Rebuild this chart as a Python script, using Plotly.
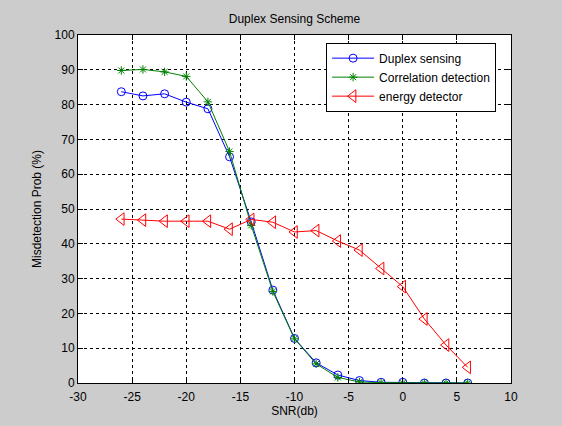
import plotly.graph_objects as go

# SNR sweep (dB)
snr_db = [-26, -24, -22, -20, -18, -16, -14, -12, -10, -8, -6, -4, -2, 0, 2, 4, 6]

# Misdetection probability (%) per scheme
duplex_sensing = [83.7, 82.5, 83.1, 80.7, 78.8, 65.0, 46.3, 26.7, 12.8, 5.8, 2.3, 0.7, 0.2, 0.2, 0, 0, 0]
correlation_detection = [89.8, 90.1, 89.4, 88.1, 80.8, 66.5, 45.3, 26.3, 12.7, 5.5, 1.6, 0.3, 0.1, 0, 0, 0, 0]
energy_detector = [47.1, 46.8, 46.5, 46.5, 46.5, 44.2, 47.0, 46.2, 43.4, 43.8, 40.8, 38.2, 32.9, 27.7, 18.4, 10.9, 4.5]

x_ticks = [-30, -25, -20, -15, -10, -5, 0, 5, 10]
y_ticks = [0, 10, 20, 30, 40, 50, 60, 70, 80, 90, 100]

FONT = "Liberation Sans, Arial, sans-serif"

fig = go.Figure()
fig.add_trace(go.Scatter(
    x=snr_db, y=duplex_sensing, name="Duplex sensing", mode="lines+markers",
    line=dict(color="#0000ff", width=1),
    marker=dict(symbol="circle-open", size=8, color="#0000ff", line=dict(width=1)),
))
fig.add_trace(go.Scatter(
    x=snr_db, y=correlation_detection, name="Correlation detection", mode="lines+markers",
    line=dict(color="#008000", width=1),
    marker=dict(symbol="asterisk-open", size=7, color="#008000", line=dict(width=1, color="#008000")),
))
fig.add_trace(go.Scatter(
    x=snr_db, y=energy_detector, name="energy detector", mode="lines+markers",
    line=dict(color="#ff0000", width=1),
    marker=dict(symbol="triangle-left-open", size=11, color="#ff0000", line=dict(width=1)),
))

axis_common = dict(
    showline=True, linecolor="black", linewidth=1, mirror="ticks",
    ticks="inside", ticklen=5, tickcolor="black",
    showgrid=True, gridcolor="black", gridwidth=1, griddash="3px,3px",
    zeroline=False, tickfont=dict(family=FONT, size=12, color="black"),
)

fig.update_xaxes(
    range=[-30, 10], tickvals=x_ticks, ticktext=[str(v) for v in x_ticks],
    ticklabelstandoff=3,
    title=dict(text="SNR(db)", font=dict(family=FONT, size=12, color="black"), standoff=2),
    **axis_common,
)
fig.update_yaxes(
    range=[0, 100], tickvals=y_ticks, ticktext=[str(v) for v in y_ticks],
    title=dict(text="Misdetection Prob (%)", font=dict(family=FONT, size=12, color="black"), standoff=10),
    **axis_common,
)

fig.update_layout(
    width=562, height=426,
    margin=dict(l=78, r=51, t=35, b=43),
    paper_bgcolor="#cccccc", plot_bgcolor="white",
    font=dict(family=FONT, size=12, color="black"),
    title=dict(text="Duplex Sensing Scheme", x=0.524, xanchor="center", y=0.955, yanchor="middle",
               font=dict(family=FONT, size=12, color="black")),
    legend=dict(
        x=0.573, y=0.978, xanchor="left", yanchor="top",
        bgcolor="white", bordercolor="black", borderwidth=1,
        font=dict(family=FONT, size=12, color="black"),
        tracegroupgap=0, itemwidth=42,
    ),
    showlegend=True,
)

fig.write_html("out.html")
